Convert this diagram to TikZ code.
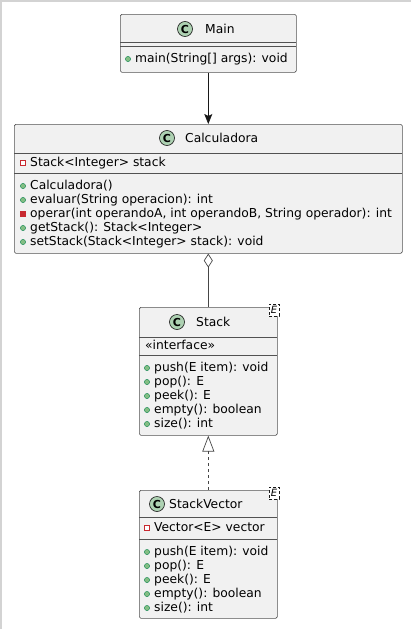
\documentclass[tikz,border=0pt]{standalone}
\usepackage{fontspec}
\setmainfont{DejaVu Sans}
\usepackage{xcolor}
\usetikzlibrary{positioning, arrows.meta}

\definecolor{boxfill}{HTML}{F1F1F1}
\definecolor{boxline}{HTML}{181818}
\definecolor{spotfill}{HTML}{ADD1B2}
\definecolor{pubfill}{HTML}{84BE84}
\definecolor{publine}{HTML}{038048}
\definecolor{privred}{HTML}{C82930}
\definecolor{framegray}{HTML}{D3D3D3}

\begin{document}
\begin{tikzpicture}[x=1pt, y=-1pt, font=\fontsize{12.3}{14}\selectfont,
    classbox/.style={draw=boxline!75, fill=boxfill, line width=0.6pt, rounded corners=1.5pt, anchor=north west, inner sep=0pt},
    sepline/.style={draw=boxline!75, line width=0.6pt},
    spot/.style={circle, fill=spotfill, draw=boxline, line width=0.6pt, minimum size=15pt, inner sep=0pt, font=\bfseries\fontsize{11}{11}\selectfont},
    cname/.style={anchor=west, inner sep=0pt},
    member/.style={anchor=west, inner sep=0pt, text height=9pt, text depth=2.6pt},
    pubdot/.style={fill=pubfill, draw=publine, line width=0.4pt},
    privattr/.style={fill=white, draw=privred, line width=0.6pt},
    privop/.style={fill=privred, draw=privred, line width=0.6pt},
    tplbox/.style={draw=boxline, densely dashed, fill=white, line width=0.4pt, inner sep=0pt, minimum width=10pt, minimum height=12pt, font=\itshape\fontsize{10}{10}\selectfont},
    assoc/.style={draw=boxline, line width=0.7pt, -{Stealth[length=10pt, width=8pt, inset=2pt]}},
    aggr/.style={draw=boxline!80, line width=0.7pt, -{Diamond[open, length=14pt, width=9pt]}},
    realize/.style={draw=boxline!80, line width=0.7pt, dashed, -{Triangle[open, length=16pt, width=12pt]}}]

    \useasboundingbox (0,0) rectangle (412,629);
    \draw[framegray, line width=1.2pt] (1,629) -- (1,1) -- (411,1);

    % Main
    \node[classbox, minimum width=176pt, minimum height=58pt] (main) at (120,14) {};
    \node[spot] (main-spot) at (185,29) {C};
    \node[cname] (main-name) at (205,29) {Main};
    \draw[sepline] (120,42) -- (296,42);
    \draw[sepline] (120,46) -- (296,46);
    \path[pubdot] (128,59) circle (2.6pt);
    \node[member] (main-m1) at (135,59) {main(String[] args): void};

    % Calculadora
    \node[classbox, minimum width=388pt, minimum height=129pt] (calc) at (14,124) {};
    \node[spot] (calc-spot) at (167,138) {C};
    \node[cname] (calc-name) at (185,138) {Calculadora};
    \draw[sepline] (14,153) -- (402,153);
    \path[privattr] (20.5,160.5) rectangle (25.5,165.5);
    \node[member] (calc-a1) at (30,163) {Stack<Integer> stack};
    \draw[sepline] (14,173) -- (402,173);
    \path[pubdot] (23,186) circle (2.6pt);
    \node[member] (calc-m1) at (30,186) {Calculadora()};
    \path[pubdot] (23,200) circle (2.6pt);
    \node[member] (calc-m2) at (30,200) {evaluar(String operacion): int};
    \path[privop] (20.5,211.5) rectangle (25.5,216.5);
    \node[member] (calc-m3) at (30,214) {operar(int operandoA, int operandoB, String operador): int};
    \path[pubdot] (23,228) circle (2.6pt);
    \node[member] (calc-m4) at (30,228) {getStack(): Stack<Integer>};
    \path[pubdot] (23,242) circle (2.6pt);
    \node[member] (calc-m5) at (30,242) {setStack(Stack<Integer> stack): void};

    % Stack
    \node[classbox, minimum width=138pt, minimum height=128pt] (stack) at (139,307) {};
    \node[tplbox] (stack-tpl) at (274,310) {E};
    \node[spot] (stack-spot) at (177,322) {C};
    \node[cname] (stack-name) at (196,322) {Stack};
    \draw[sepline] (139,337) -- (277,337);
    \node[member] (stack-st) at (145,346.5) {«interface»};
    \draw[sepline] (139,355) -- (277,355);
    \path[pubdot] (147,368) circle (2.6pt);
    \node[member] (stack-m1) at (154,368) {push(E item): void};
    \path[pubdot] (147,382) circle (2.6pt);
    \node[member] (stack-m2) at (154,382) {pop(): E};
    \path[pubdot] (147,396) circle (2.6pt);
    \node[member] (stack-m3) at (154,396) {peek(): E};
    \path[pubdot] (147,410) circle (2.6pt);
    \node[member] (stack-m4) at (154,410) {empty(): boolean};
    \path[pubdot] (147,424) circle (2.6pt);
    \node[member] (stack-m5) at (154,424) {size(): int};

    % StackVector
    \node[classbox, minimum width=138pt, minimum height=128pt] (vec) at (139,490) {};
    \node[tplbox] (vec-tpl) at (274,493) {E};
    \node[spot] (vec-spot) at (157,504) {C};
    \node[cname] (vec-name) at (169,504) {StackVector};
    \draw[sepline] (139,517) -- (277,517);
    \path[privattr] (144.5,525.5) rectangle (149.5,530.5);
    \node[member] (vec-a1) at (154,528) {Vector<E> vector};
    \draw[sepline] (139,539) -- (277,539);
    \path[pubdot] (147,552) circle (2.6pt);
    \node[member] (vec-m1) at (154,552) {push(E item): void};
    \path[pubdot] (147,566) circle (2.6pt);
    \node[member] (vec-m2) at (154,566) {pop(): E};
    \path[pubdot] (147,580) circle (2.6pt);
    \node[member] (vec-m3) at (154,580) {peek(): E};
    \path[pubdot] (147,594) circle (2.6pt);
    \node[member] (vec-m4) at (154,594) {empty(): boolean};
    \path[pubdot] (147,608) circle (2.6pt);
    \node[member] (vec-m5) at (154,608) {size(): int};

    \draw[assoc] (main.south) -- (calc.north);
    \draw[aggr] (stack.north) -- (calc.south);
    \draw[realize] (vec.north) -- (stack.south);
\end{tikzpicture}
\end{document}
